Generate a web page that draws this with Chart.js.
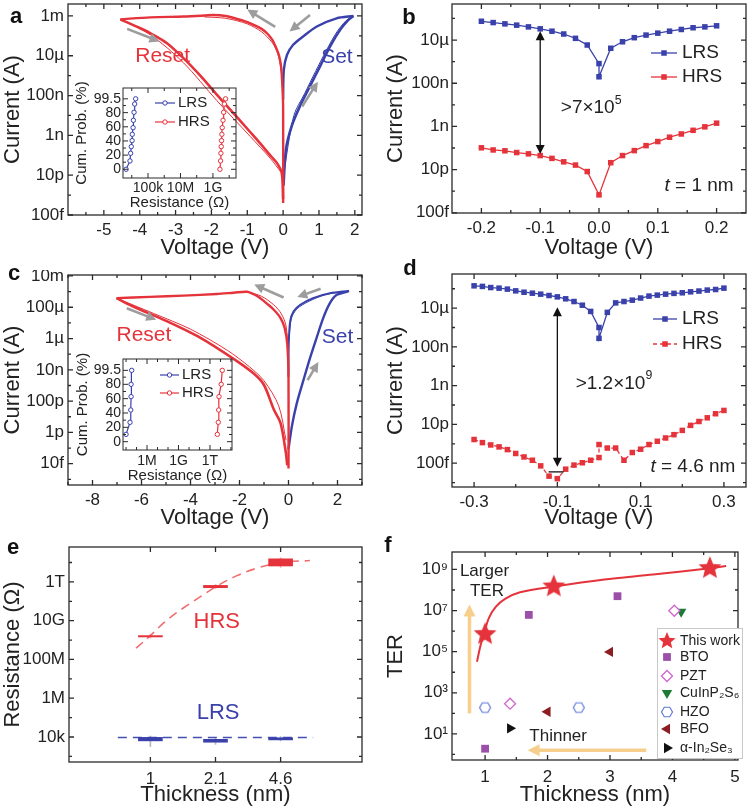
<!DOCTYPE html>
<html lang="en">
<head>
<meta charset="UTF-8">
<title>Resistive switching of ferroelectric tunnel junctions</title>
<script src="https://cdn.jsdelivr.net/npm/chart.js"></script>
<style>
  body { margin: 0; width: 750px; height: 811px; position: relative; overflow: hidden; background: #fff; }
  canvas { position: absolute; }
  .lbl { position: absolute; font: bold 22px "Liberation Sans", Arial, sans-serif; color: #111; transform: translate(-50%, -50%); }
</style>
</head>
<body>
<canvas id="pa" width="375" height="270" style="left:0;top:0"></canvas>
<canvas id="pb" width="375" height="270" style="left:375px;top:0"></canvas>
<canvas id="pc" width="375" height="270" style="left:0;top:270px"></canvas>
<canvas id="pd" width="375" height="270" style="left:375px;top:270px"></canvas>
<canvas id="pe" width="375" height="271" style="left:0;top:540px"></canvas>
<canvas id="pf" width="375" height="271" style="left:375px;top:540px"></canvas>
<canvas id="ia" width="175" height="135" style="left:70px;top:80px"></canvas>
<canvas id="ic" width="175" height="135" style="left:70px;top:350px"></canvas>
<div class="lbl" style="left:16px;top:16px">a</div>
<div class="lbl" style="left:409px;top:17px">b</div>
<div class="lbl" style="left:14px;top:273px">c</div>
<div class="lbl" style="left:410px;top:268px">d</div>
<div class="lbl" style="left:13px;top:547px">e</div>
<div class="lbl" style="left:388px;top:545px">f</div>
<script>
// all currents / resistances / TER are stored as log10 values

// ---- a: I-V loops, t = 1 nm ----
const aRedTopV = [-4.54, -3.70, -2.77, -2.20, -1.94, -1.60, -1.38, -1.10, -0.82, -0.60, -0.45, -0.30, -0.22, -0.12, -0.06, -0.03, 0, 0];
const aRedTopI = [-3.17, -3.07, -3.03, -2.98, -2.95, -3.00, -3.10, -3.25, -3.45, -3.65, -3.87, -4.20, -4.50, -4.95, -5.50, -6.20, -7.50, -12.4];
const aRedTop2V = [-2.20, -1.60, -1.00, -0.60, -0.30, -0.15, -0.05, 0];
const aRedTop2I = [-3.05, -3.12, -3.40, -3.80, -4.35, -4.90, -5.80, -7.00];
const aRedLowV = [-4.54, -3.98, -3.70, -3.24, -2.78, -2.31, -1.85, -1.38, -0.92, -0.64, -0.36, -0.18, -0.04, 0];
const aRedLowI = [-3.17, -3.62, -3.87, -4.37, -5.12, -6.00, -6.95, -7.90, -8.83, -9.40, -10.00, -10.37, -10.87, -12.2];
const aRedLow2V = [-4.54, -3.70, -2.78, -1.85, -0.92, -0.36, -0.04];
const aRedLow2I = [-3.17, -3.95, -5.35, -7.25, -9.05, -10.15, -10.90];
const aBlueLowV = [0.01, 0.08, 0.24, 0.47, 0.75, 1.03, 1.31, 1.59, 1.82, 1.96];
const aBlueLowI = [-11.53, -9.70, -8.53, -7.53, -6.53, -5.53, -4.53, -3.70, -3.20, -3.00];
const aBlueLow2V = [0.01, 0.30, 0.60, 0.90, 1.20, 1.50, 1.75, 1.96];
const aBlueLow2I = [-11.0, -8.00, -6.90, -5.80, -4.75, -3.80, -3.25, -3.00];
const aBlueUpV = [1.96, 1.49, 0.94, 0.56, 0.28, 0.11, 0.02, 0];
const aBlueUpI = [-3.00, -3.12, -3.53, -4.03, -4.45, -4.95, -5.70, -7.20];
// inset a: cumulative probability vs resistance
const iaProb = [0, 11.8, 22.6, 32, 40.5, 49.4, 58.8, 69.2, 80.5, 92.2, 99.5];
const iaLrsR = [3.65, 3.89, 3.93, 3.97, 4.02, 4.03, 4.08, 4.10, 4.14, 4.18, 4.24];
const iaHrsR = [9.43, 9.47, 9.49, 9.51, 9.53, 9.55, 9.57, 9.62, 9.66, 9.70, 9.78];

// ---- b: read-out at t = 1 nm ----
const bVLrs = [-0.2, -0.18, -0.16, -0.14, -0.12, -0.1, -0.08, -0.06, -0.04, -0.02, 0, 0, 0.02, 0.04, 0.06, 0.08, 0.1, 0.12, 0.14, 0.16, 0.18, 0.2];
const bLrs = [-4.13, -4.19, -4.25, -4.31, -4.39, -4.48, -4.59, -4.72, -4.92, -5.23, -6.09, -6.70, -5.38, -5.08, -4.89, -4.77, -4.68, -4.59, -4.51, -4.43, -4.39, -4.34];
const bVHrs = [-0.2, -0.18, -0.16, -0.14, -0.12, -0.1, -0.08, -0.06, -0.04, -0.02, 0, 0.02, 0.04, 0.06, 0.08, 0.1, 0.12, 0.14, 0.16, 0.18, 0.2];
const bHrs = [-9.99, -10.09, -10.13, -10.21, -10.27, -10.35, -10.48, -10.64, -10.79, -11.09, -12.17, -10.68, -10.35, -10.12, -9.89, -9.70, -9.50, -9.35, -9.18, -9.02, -8.85];

// ---- c: I-V loops, t = 4.6 nm ----
const cRedTopV = [-7.02, -5.66, -4.29, -2.92, -2.24, -1.69, -1.42, -1.15, -0.87, -0.60, -0.33, -0.16, -0.05, 0, 0];
const cRedTopI = [-3.42, -3.34, -3.26, -3.15, -3.07, -3.01, -3.17, -3.42, -3.78, -4.16, -4.68, -5.31, -6.36, -8.45, -14.3];
const cRedTop2V = [-1.69, -1.10, -0.60, -0.30, -0.10, 0];
const cRedTop2I = [-3.01, -3.30, -3.85, -4.40, -5.20, -7.00];
const cRedLowV = [-7.02, -6.34, -4.97, -3.61, -2.24, -1.42, -1.00, -0.60, -0.33, -0.12, -0.05];
const cRedLowI = [-3.42, -3.95, -4.89, -5.94, -7.30, -8.24, -8.97, -10.54, -11.38, -13.16, -14.1];
const cRedLow2V = [-7.02, -5.50, -4.00, -2.50, -1.60, -1.00, -0.40, -0.10];
const cRedLow2I = [-3.42, -4.40, -5.40, -6.75, -7.80, -8.70, -10.30, -12.50];
const cBlueLowV = [0, 0.14, 0.34, 0.61, 0.89, 1.15, 1.42, 1.69, 1.97, 2.40, 2.47];
const cBlueLowI = [-13.06, -11.59, -10.13, -8.66, -7.19, -5.94, -4.68, -3.74, -3.21, -3.00, -2.96];
const cBlueUpV = [2.47, 1.69, 1.00, 0.48, 0.21, 0.07, 0.01, 0];
const cBlueUpI = [-2.96, -3.11, -3.42, -3.84, -4.26, -4.89, -6.36, -8.45];
const cBlueUp2V = [2.47, 1.50, 0.80, 0.35, 0.12, 0.02];
const cBlueUp2I = [-2.96, -3.20, -3.65, -4.10, -4.70, -6.00];
// inset c
const icProb = [10.2, 27, 44.2, 62.8, 80, 99.5];
const icLrsR = [4.00, 4.38, 4.45, 4.48, 4.48, 4.54];
const icHrsR = [12.70, 12.79, 12.83, 12.86, 13.07, 13.17];

// ---- d: read-out at t = 4.6 nm ----
const dV = [-0.3, -0.28, -0.26, -0.24, -0.22, -0.2, -0.18, -0.16, -0.14, -0.12, -0.1, -0.08, -0.06, -0.04, -0.02, 0, 0,
            0.02, 0.04, 0.06, 0.08, 0.1, 0.12, 0.14, 0.16, 0.18, 0.2, 0.22, 0.24, 0.26, 0.28, 0.3];
const dLrs = [-3.85, -3.88, -3.94, -3.97, -4.02, -4.11, -4.18, -4.23, -4.28, -4.35, -4.42, -4.52, -4.66, -4.85, -5.17, -6.00, -6.56,
              -5.22, -4.73, -4.66, -4.59, -4.48, -4.38, -4.33, -4.28, -4.24, -4.21, -4.16, -4.12, -4.07, -4.04, -3.97];
const dHrs = [-11.78, -11.94, -12.06, -12.16, -12.30, -12.50, -12.68, -12.85, -13.14, -13.67, -13.80, -13.31, -13.10, -12.98, -12.85, -12.71, -12.04,
              -12.22, -12.22, -12.85, -12.45, -12.28, -12.04, -11.87, -11.70, -11.53, -11.31, -11.05, -10.85, -10.66, -10.45, -10.28];

// ---- e: resistance vs thickness ----
const eThickness = ['1', '2.1', '4.6'];
const eIdx = [0, 1, 2];
const eHrsLow = [9.16, 11.70, 12.82];
const eHrsHigh = [9.23, 11.82, 13.19];
const eLrsLow = [3.80, 3.73, 3.85];
const eLrsHigh = [3.98, 3.88, 3.96];
const eHrsWhLow = [9.10, 11.65, 12.75];
const eHrsWhHigh = [9.30, 11.87, 13.25];
const eLrsWhLow = [3.50, 3.62, 3.80];
const eLrsWhHigh = [4.05, 3.95, 4.02];
const eHrsFitX = [-0.22, 0.0, 0.226, 0.5, 0.77, 1.01, 1.32, 1.63, 2.0, 2.45];
const eHrsFitY = [8.58, 9.23, 9.95, 10.64, 11.24, 11.76, 12.31, 12.70, 13.0, 13.1];
const eLrsFitX = [-0.5, 2.5];
const eLrsFitY = [3.97, 3.97];

// ---- f: TER benchmark ----
const fThisX = [1, 2.1, 4.6], fThisY = [5.85, 8.17, 9.06];
const fFitX = [0.87, 0.92, 0.98, 1.06, 1.17, 1.32, 1.56, 2.10, 2.91, 3.69, 4.60, 4.86];
const fFitY = [4.51, 5.22, 5.85, 6.63, 7.18, 7.57, 7.89, 8.17, 8.51, 8.75, 9.06, 9.17];
const fBtoX = [1.0, 1.70, 3.12], fBtoY = [0.28, 6.79, 7.70];
const fPztX = [1.40, 4.03], fPztY = [2.47, 6.99];
const fCipsX = [4.14], fCipsY = [6.94];
const fHzoX = [1.0, 2.5], fHzoY = [2.28, 2.28];
const fBfoX = [2.0, 3.0], fBfoY = [2.08, 4.99];
const fInSeX = [1.40], fInSeY = [1.27];
const fNames = ['This work', 'BTO', 'PZT', 'CuInP₂S₆', 'HZO', 'BFO', 'α-In₂Se₃'];

// tick values and labels
const ivYTicksA = [-13, -11, -9, -7, -5, -3], ivYLabelsA = ['100f', '10p', '1n', '100n', '10µ', '1m'];
const ivXTicksA = [-5, -4, -3, -2, -1, 0, 1, 2];
const ivYTicksB = [-13, -11, -9, -7, -5], ivYLabelsB = ['100f', '10p', '1n', '100n', '10µ'];
const ivXTicksB = [-0.2, -0.1, 0, 0.1, 0.2], ivXLabelsB = ['-0.2', '-0.1', '0.0', '0.1', '0.2'];
const ivYTicksC = [-14, -12, -10, -8, -6, -4, -2], ivYLabelsC = ['10f', '1p', '100p', '10n', '1µ', '100µ', '10m'];
const ivXTicksC = [-8, -6, -4, -2, 0, 2];
const ivXTicksD = [-0.3, -0.1, 0.1, 0.3], ivXLabelsD = ['-0.3', '-0.1', '0.1', '0.3'];
const rYTicksE = [4, 6, 8, 10, 12], rYLabelsE = ['10k', '1M', '100M', '10G', '1T'];
const terYTicks = [1, 3, 5, 7, 9], terYLabels = ['10¹', '10³', '10⁵', '10⁷', '10⁹'];
const thXTicksF = [1, 2, 3, 4, 5];
const probTicks = [0, 20, 40, 60, 80, 99.5];
const insXTicksA = [5, 7, 9], insXLabelsA = ['100k', '10M', '1G'];
const insXTicksC = [6, 9, 12], insXLabelsC = ['1M', '1G', '1T'];

const FONT = '"Liberation Sans", Arial, Helvetica, sans-serif';
Chart.defaults.font.family = FONT;
Chart.defaults.color = '#222';
const RED = '#e5333b', BLUE = '#3a41ab', GREY = '#9d9d9d', INK = '#111';

const pts = (xs, ys) => xs.map((x, i) => ({x, y: ys[i]}));
const curve = (xs, ys, color, w, more) => Object.assign({data: pts(xs, ys), borderColor: color, backgroundColor: color,
  borderWidth: w, pointRadius: 0, tension: 0.3, fill: false}, more || {});
const squares = (xs, ys, color, more) => Object.assign({data: pts(xs, ys), borderColor: color, backgroundColor: color,
  borderWidth: 1.3, pointStyle: 'rect', pointRadius: 3.9, pointBorderWidth: 0, pointBackgroundColor: color, tension: 0}, more || {});
const rings = (xs, ys, color) => ({data: pts(xs, ys), borderColor: color, borderWidth: 1.2, pointStyle: 'circle', pointRadius: 2.2,
  pointBorderWidth: 1, pointBorderColor: color, pointBackgroundColor: '#fff', tension: 0});
const marks = (xs, ys, style, r, fill, stroke, rot) => ({data: pts(xs, ys), showLine: false, pointStyle: style, pointRadius: r,
  pointRotation: rot || 0, pointBackgroundColor: fill, pointBorderColor: stroke, pointBorderWidth: fill === '#fff' ? 1.3 : 0});
const range = (xs, lo, hi, color, w) => ({type: 'bar', data: xs.map((x, i) => ({x, y: [lo[i], hi[i]]})),
  backgroundColor: color, barThickness: w, grouped: false, borderWidth: 0});

// marker shapes that Chart.js does not have
function starImg(r, color) {
  const c = document.createElement('canvas'), s = Math.ceil(2 * r + 2);
  c.width = c.height = s;
  const g = c.getContext('2d');
  g.beginPath();
  for (let i = 0; i < 10; i++) {
    const rr = i % 2 ? r * 0.45 : r, a = -Math.PI / 2 + i * Math.PI / 5;
    g.lineTo(s / 2 + rr * Math.cos(a), s / 2 + rr * Math.sin(a));
  }
  g.closePath(); g.fillStyle = color; g.fill();
  return c;
}
function hexImg(r, color) {
  const c = document.createElement('canvas'), s = Math.ceil(2 * r + 3);
  c.width = c.height = s;
  const g = c.getContext('2d');
  g.beginPath();
  for (let i = 0; i < 6; i++) {
    const a = i * Math.PI / 3;
    g.lineTo(s / 2 + r * Math.cos(a), s / 2 + r * Math.sin(a));
  }
  g.closePath(); g.fillStyle = '#fff'; g.fill(); g.strokeStyle = color; g.lineWidth = 1.2; g.stroke();
  return c;
}
const STAR = starImg(12, RED), STAR_SMALL = starImg(9, RED), HEX = hexImg(5.5, '#5f7ad8');

function drawText(ctx, x, y, parts, size, color, align) {
  if (typeof parts === 'string') parts = [{t: parts}];
  const f = p => (p.it ? 'italic ' : '') + (p.sup ? size * 0.65 : size) + 'px ' + FONT;
  let w = 0;
  const ws = parts.map(p => { ctx.font = f(p); const m = ctx.measureText(p.t).width; w += m; return m; });
  let cx = align === 'left' ? x : align === 'right' ? x - w : x - w / 2;
  ctx.fillStyle = color; ctx.textAlign = 'left'; ctx.textBaseline = 'middle';
  parts.forEach((p, i) => { ctx.font = f(p); ctx.fillText(p.t, cx, p.sup ? y - size * 0.4 : y); cx += ws[i]; });
}

function arrow(ctx, x1, y1, x2, y2, color, w, head, both) {
  const a = Math.atan2(y2 - y1, x2 - x1), hw = head * 0.5, c = Math.cos(a), s = Math.sin(a);
  ctx.strokeStyle = color; ctx.fillStyle = color; ctx.lineWidth = w; ctx.setLineDash([]);
  ctx.beginPath();
  ctx.moveTo(both ? x1 + head * 0.8 * c : x1, both ? y1 + head * 0.8 * s : y1);
  ctx.lineTo(x2 - head * 0.8 * c, y2 - head * 0.8 * s);
  ctx.stroke();
  const tip = (x, y, cc, ss) => {
    ctx.beginPath(); ctx.moveTo(x, y);
    ctx.lineTo(x - head * cc + hw * ss, y - head * ss - hw * cc);
    ctx.lineTo(x - head * cc - hw * ss, y - head * ss + hw * cc);
    ctx.closePath(); ctx.fill();
  };
  tip(x2, y2, c, s);
  if (both) tip(x1, y1, -c, -s);
}

const extras = {};
const deco = {
  id: 'deco',
  afterDraw(chart) {
    const c = extras[chart.canvas.id];
    const {ctx, chartArea: a} = chart;
    const X = v => chart.scales.x.getPixelForValue(v), Y = v => chart.scales.y.getPixelForValue(v);
    ctx.save();
    // frame with inward ticks on all sides
    ctx.strokeStyle = '#2a2a2a'; ctx.lineWidth = c.inset ? 1 : 1.3;
    ctx.strokeRect(a.left, a.top, a.right - a.left, a.bottom - a.top);
    ctx.beginPath();
    const xt = (v, l) => { const p = X(v); ctx.moveTo(p, a.bottom); ctx.lineTo(p, a.bottom - l); ctx.moveTo(p, a.top); ctx.lineTo(p, a.top + l); };
    const yt = (v, l) => { const p = Y(v); ctx.moveTo(a.left, p); ctx.lineTo(a.left + l, p); ctx.moveTo(a.right, p); ctx.lineTo(a.right - l, p); };
    c.x.ticks.forEach(v => xt(v, 5)); (c.x.minor || []).forEach(v => xt(v, 3));
    c.y.ticks.forEach(v => yt(v, 5)); (c.y.minor || []).forEach(v => yt(v, 3));
    ctx.stroke();
    (c.arrows || []).forEach(r => arrow(ctx, X(r.from[0]), Y(r.from[1]), X(r.to[0]), Y(r.to[1]), r.color, r.w, r.head, r.both));
    (c.bars || []).forEach(r => {
      ctx.strokeStyle = r.color; ctx.lineWidth = r.w; ctx.beginPath();
      ctx.moveTo(X(r.from[0]), Y(r.from[1])); ctx.lineTo(X(r.to[0]), Y(r.to[1])); ctx.stroke();
    });
    (c.notes || []).forEach(n => drawText(ctx, X(n.at[0]), Y(n.at[1]), n.text, n.fs, n.color, n.align));
    if (c.legendBox) {
      const b = c.legendBox;
      ctx.fillStyle = '#fff'; ctx.fillRect(b[0], b[1], b[2], b[3]);
      ctx.strokeStyle = '#c8c8c8'; ctx.lineWidth = 1; ctx.strokeRect(b[0] + 0.5, b[1] + 0.5, b[2], b[3]);
    }
    (c.legend || []).forEach(l => {
      const ds = chart.data.datasets[l.ds];
      if (l.line) {
        ctx.strokeStyle = ds.borderColor; ctx.lineWidth = ds.borderWidth;
        ctx.setLineDash(ds.borderDash || []);
        ctx.beginPath(); ctx.moveTo(l.line[0], l.y); ctx.lineTo(l.line[1], l.y); ctx.stroke();
        ctx.setLineDash([]);
      }
      ctx.fillStyle = ds.pointBackgroundColor; ctx.strokeStyle = ds.pointBorderColor || ds.borderColor;
      ctx.lineWidth = ds.pointBorderWidth || 0;
      Chart.helpers.drawPoint(ctx, {pointStyle: l.img || ds.pointStyle, rotation: ds.pointRotation || 0,
        radius: ds.pointRadius, borderWidth: ds.pointBorderWidth || 0}, l.mx, l.y);
      drawText(ctx, l.tx, l.y, l.text, l.fs, '#222', 'left');
    });
    ctx.restore();
  }
};

function build(id, c) {
  extras[id] = c;
  const ax = (s, isX) => ({
    type: 'linear', position: isX ? 'bottom' : 'left', min: s.min, max: s.max, bounds: 'data',
    grid: {display: false, drawTicks: false}, border: {display: false},
    afterBuildTicks: sc => { sc.ticks = s.ticks.map(v => ({value: v})); },
    afterFit: sc => {
      if (isX) { sc.height = s.size; sc.paddingLeft = 0; sc.paddingRight = 0; }
      else { sc.width = s.size; sc.paddingTop = 0; sc.paddingBottom = 0; }
    },
    ticks: {autoSkip: false, maxRotation: 0, minRotation: 0, padding: s.pad, color: '#222',
      font: {size: s.fs || 17}, callback: (v, i) => (s.labels ? s.labels[i] : String(v))},
    title: {display: true, text: s.title, color: '#222', font: {size: s.tfs || 22}, padding: s.tpad}
  });
  return new Chart(document.getElementById(id), {
    type: 'line',
    data: {datasets: c.datasets},
    options: {
      responsive: false, animation: false, events: [],
      layout: {padding: {left: 0, top: c.top, right: c.right, bottom: 0}},
      plugins: {legend: {display: false}, tooltip: {enabled: false}},
      scales: {x: ax(c.x, true), y: ax(c.y, false)}
    },
    plugins: [deco]
  });
}

const halves = (lo, hi, step) => { const r = []; for (let v = lo; v <= hi + 1e-9; v += step) r.push(+v.toFixed(3)); return r; };

// ---------- a ----------
build('pa', {
  top: 4, right: 13,
  x: {min: -6, max: 2.2, ticks: ivXTicksA, minor: halves(-5.5, 1.5, 1), size: 55, pad: 5, title: 'Voltage (V)', tpad: 9},
  y: {min: -13, max: -2.4, ticks: ivYTicksA, labels: ivYLabelsA, minor: [-12, -10, -8, -6, -4], size: 68, pad: 4, title: 'Current (A)', tpad: 0},
  datasets: [
    curve(aRedTopV, aRedTopI, RED, 2.4), curve(aRedTop2V, aRedTop2I, RED, 1),
    curve(aRedLowV, aRedLowI, RED, 2.6), curve(aRedLow2V, aRedLow2I, RED, 1),
    curve(aBlueLowV, aBlueLowI, BLUE, 2.6), curve(aBlueLow2V, aBlueLow2I, BLUE, 1),
    curve(aBlueUpV, aBlueUpI, BLUE, 2.4)
  ],
  arrows: [
    {from: [-4.35, -3.65], to: [-3.45, -4.28], color: GREY, w: 2.6, head: 10},
    {from: [-0.22, -3.55], to: [-1.0, -2.68], color: GREY, w: 2.6, head: 10},
    {from: [0.75, -2.95], to: [0.18, -3.78], color: GREY, w: 2.6, head: 10},
    {from: [0.53, -7.55], to: [0.97, -6.3], color: GREY, w: 2.6, head: 10}
  ],
  notes: [
    {at: [-3.36, -5.03], text: 'Reset', fs: 21, color: RED},
    {at: [1.5, -5.05], text: 'Set', fs: 21, color: BLUE}
  ]
});
build('ia', {
  inset: true, top: 8, right: 9,
  x: {min: 3.46, max: 10.42, ticks: insXTicksA, labels: insXLabelsA, minor: [4, 6, 8, 10], size: 37, pad: 2, fs: 14, title: 'Resistance (Ω)', tfs: 15, tpad: 3},
  y: {min: -12.3, max: 114.8, ticks: probTicks, minor: [10, 30, 50, 70, 90], size: 53, pad: 2, fs: 14, title: 'Cum. Prob. (%)', tfs: 15, tpad: 3},
  datasets: [rings(iaLrsR, iaProb, BLUE), rings(iaHrsR, iaProb, RED)],
  legend: [
    {ds: 0, line: [85, 105], mx: 95, tx: 108, y: 23, text: 'LRS', fs: 15},
    {ds: 1, line: [85, 105], mx: 95, tx: 108, y: 42, text: 'HRS', fs: 15}
  ]
});

// ---------- b ----------
build('pb', {
  top: 2, right: 4,
  x: {min: -0.25, max: 0.25, ticks: ivXTicksB, labels: ivXLabelsB, minor: [-0.15, -0.05, 0.05, 0.15], size: 57, pad: 5, title: 'Voltage (V)', tpad: 9},
  y: {min: -13.01, max: -3.33, ticks: ivYTicksB, labels: ivYLabelsB, minor: [-12, -10, -8, -6, -4], size: 77, pad: 3, title: 'Current (A)', tpad: 8},
  datasets: [squares(bVLrs, bLrs, BLUE), squares(bVHrs, bHrs, RED)],
  arrows: [{from: [-0.1, -4.59], to: [-0.1, -10.28], color: INK, w: 1.3, head: 9, both: true}],
  notes: [
    {at: [-0.065, -8.15], text: [{t: '>7×10'}, {t: '5', sup: true}], fs: 19, color: '#222', align: 'left'},
    {at: [0.229, -11.73], text: [{t: 't', it: true}, {t: ' = 1 nm'}], fs: 19, color: '#222', align: 'right'}
  ],
  legend: [
    {ds: 0, line: [276, 302], mx: 289, tx: 307, y: 53, text: 'LRS', fs: 19},
    {ds: 1, line: [276, 302], mx: 289, tx: 307, y: 77, text: 'HRS', fs: 19}
  ]
});

// ---------- c ----------
build('pc', {
  top: 5, right: 13,
  x: {min: -9, max: 3, ticks: ivXTicksC, minor: [-9, -7, -5, -3, -1, 1, 3], size: 55, pad: 5, title: 'Voltage (V)', tpad: 9},
  y: {min: -15.36, max: -1.94, ticks: ivYTicksC, labels: ivYLabelsC, minor: [-15, -13, -11, -9, -7, -5, -3], size: 68, pad: 4, title: 'Current (A)', tpad: 0},
  datasets: [
    curve(cRedTopV, cRedTopI, RED, 2.4), curve(cRedTop2V, cRedTop2I, RED, 1),
    curve(cRedLowV, cRedLowI, RED, 2.6), curve(cRedLow2V, cRedLow2I, RED, 1),
    curve(cBlueLowV, cBlueLowI, BLUE, 2.4), curve(cBlueUpV, cBlueUpI, BLUE, 2), curve(cBlueUp2V, cBlueUp2I, BLUE, 1)
  ],
  arrows: [
    {from: [-6.6, -4.07], to: [-5.4, -4.8], color: GREY, w: 2.6, head: 10},
    {from: [-0.2, -3.38], to: [-1.4, -2.55], color: GREY, w: 2.6, head: 10},
    {from: [1.31, -2.82], to: [0.36, -3.35], color: GREY, w: 2.6, head: 10},
    {from: [0.78, -8.66], to: [1.22, -7.5], color: GREY, w: 2.6, head: 10}
  ],
  notes: [
    {at: [-5.9, -5.77], text: 'Reset', fs: 21, color: RED},
    {at: [2.0, -5.94], text: 'Set', fs: 21, color: BLUE}
  ]
});
build('ic', {
  inset: true, top: 9, right: 13,
  x: {min: 3.71, max: 14.1, ticks: insXTicksC, labels: insXLabelsC, minor: [4, 5, 7, 8, 10, 11, 13, 14], size: 35, pad: 3, fs: 14, title: 'Resistance (Ω)', tfs: 15, tpad: 0},
  y: {min: -11.6, max: 115.3, ticks: probTicks, minor: [10, 30, 50, 70, 90], size: 53, pad: 2, fs: 14, title: 'Cum. Prob. (%)', tfs: 15, tpad: 4},
  datasets: [rings(icLrsR, icProb, BLUE), rings(icHrsR, icProb, RED)],
  legend: [
    {ds: 0, line: [90, 109], mx: 99.5, tx: 112, y: 25, text: 'LRS', fs: 15},
    {ds: 1, line: [90, 109], mx: 99.5, tx: 112, y: 43, text: 'HRS', fs: 15}
  ]
});

// ---------- d ----------
build('pd', {
  top: 3, right: 4,
  x: {min: -0.353, max: 0.353, ticks: ivXTicksD, labels: ivXLabelsD, minor: [-0.2, 0, 0.2], size: 53, pad: 5, title: 'Voltage (V)', tpad: 9},
  y: {min: -14.23, max: -3.24, ticks: ivYTicksB, labels: ivYLabelsB, minor: [-14, -12, -10, -8, -6, -4], size: 77, pad: 3, title: 'Current (A)', tpad: 8},
  datasets: [squares(dV, dLrs, BLUE), squares(dV, dHrs, RED, {borderDash: [4, 3]})],
  arrows: [{from: [-0.1, -4.95], to: [-0.1, -13.19], color: INK, w: 1.3, head: 9, both: true}],
  bars: [{from: [-0.121, -13.45], to: [-0.085, -13.45], color: INK, w: 1.3}],
  notes: [
    {at: [-0.056, -8.89], text: [{t: '>1.2×10'}, {t: '9', sup: true}], fs: 19, color: '#222', align: 'left'},
    {at: [0.3276, -13.2], text: [{t: 't', it: true}, {t: ' = 4.6 nm'}], fs: 19, color: '#222', align: 'right'}
  ],
  legend: [
    {ds: 0, line: [278, 302], mx: 290, tx: 307, y: 49, text: 'LRS', fs: 19},
    {ds: 1, line: [278, 302], mx: 290, tx: 307, y: 74, text: 'HRS', fs: 19}
  ]
});

// ---------- e ----------
build('pe', {
  top: 7, right: 13,
  x: {min: -0.5, max: 2.5, ticks: eIdx, labels: eThickness, size: 49, pad: 7, title: 'Thickness (nm)', tpad: 3},
  y: {min: 2.71, max: 13.8, ticks: rYTicksE, labels: rYLabelsE, minor: [3, 5, 7, 9, 11, 13], size: 69, pad: 4, title: 'Resistance (Ω)', tpad: 0},
  datasets: [
    range(eIdx, eHrsLow, eHrsHigh, RED, 24), range(eIdx, eLrsLow, eLrsHigh, BLUE, 24),
    curve(eHrsFitX, eHrsFitY, '#f06d6f', 1.6, {borderDash: [9, 6], tension: 0.4}),
    curve(eLrsFitX, eLrsFitY, '#4450b0', 1.6, {borderDash: [9, 6], tension: 0}),
    range(eIdx, eHrsWhLow, eHrsWhHigh, '#f2b3b5', 1), range(eIdx, eLrsWhLow, eLrsWhHigh, '#b8b8c8', 1)
  ],
  notes: [
    {at: [1.02, 9.95], text: 'HRS', fs: 22, color: RED},
    {at: [1.04, 5.24], text: 'LRS', fs: 22, color: BLUE}
  ]
});

// ---------- f ----------
build('pf', {
  top: 5, right: 4,
  x: {min: 0.47, max: 5.05, ticks: thXTicksF, minor: [1.5, 2.5, 3.5, 4.5], size: 51, pad: 7, title: 'Thickness (nm)', tpad: 3},
  y: {min: -0.27, max: 9.85, ticks: terYTicks, labels: terYLabels, minor: [0, 2, 4, 6, 8], size: 77, pad: 4, title: 'TER', tpad: 8},
  datasets: [
    marks(fThisX, fThisY, STAR, 12, RED, RED),
    marks(fBtoX, fBtoY, 'rect', 5.5, '#9c4fa8', '#9c4fa8'),
    marks(fPztX, fPztY, 'rectRot', 5.5, '#fff', '#d265cf'),
    marks(fCipsX, fCipsY, 'triangle', 6, '#1b7a35', '#1b7a35', 180),
    marks(fHzoX, fHzoY, HEX, 5.5, '#fff', '#5f7ad8'),
    marks(fBfoX, fBfoY, 'triangle', 6, '#8c1d22', '#8c1d22', -90),
    marks(fInSeX, fInSeY, 'triangle', 6, '#111', '#111', 90),
    curve(fFitX, fFitY, RED, 2, {tension: 0.3})
  ],
  arrows: [
    {from: [0.75, 2.0], to: [0.75, 7.3], color: '#f6cf8c', w: 3.5, head: 12},
    {from: [3.58, 0.2], to: [1.68, 0.2], color: '#f6cf8c', w: 3.5, head: 12}
  ],
  notes: [
    {at: [0.99, 8.9], text: 'Larger', fs: 17, color: '#222'},
    {at: [1.03, 7.96], text: 'TER', fs: 17, color: '#222'},
    {at: [2.17, 0.9], text: 'Thinner', fs: 17, color: '#222'}
  ],
  legendBox: [282, 88, 85, 130],
  legend: fNames.map((n, i) => ({ds: i, mx: 292, tx: 305, y: [101, 117, 136, 153, 172, 189, 208][i], text: n, fs: 14,
    img: i === 0 ? STAR_SMALL : null}))
});
</script>
</body>
</html>
